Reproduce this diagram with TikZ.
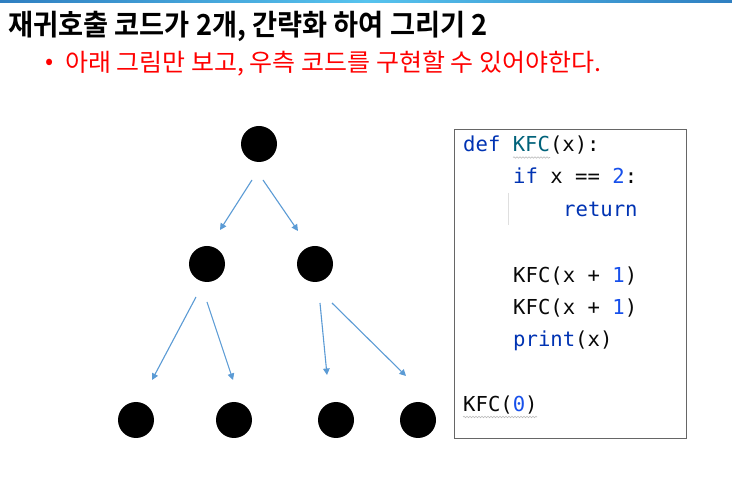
\documentclass[tikz,border=0pt]{standalone}
\usepackage{fontspec}
\usepackage{graphicx}
\usetikzlibrary{arrows.meta,decorations.pathmorphing}
\newfontfamily\krbold{Noto Sans CJK KR Bold}
\newfontfamily\kr{Noto Sans CJK KR}
\newfontfamily\codefont{DejaVu Sans Mono}
\definecolor{arrowblue}{HTML}{5B9BD5}
\definecolor{kw}{HTML}{0033B3}
\definecolor{fn}{HTML}{00627A}
\definecolor{num}{HTML}{1750EB}
\definecolor{txt}{HTML}{080808}
\definecolor{topA}{HTML}{2F7FC1}
\definecolor{topB}{HTML}{56C3EE}
\definecolor{redtxt}{HTML}{FF0000}
\tikzset{
  dot/.style={circle,fill=black,minimum size=36pt,inner sep=0pt},
  callarrow/.style={draw=arrowblue,line width=1.1pt,-{Triangle[length=6.5pt,width=6.5pt]}},
  codeline/.style={anchor=base west,inner sep=0pt,font=\codefont\fontsize{20.6}{24}\selectfont,text=txt},
  squiggle/.style={draw=gray!55,line width=0.6pt,decorate,decoration={snake,amplitude=0.7pt,segment length=3pt}}
}
\begin{document}
\begin{tikzpicture}[x=1pt,y=-1pt]
\useasboundingbox (0,0) rectangle (732,486);
\fill[white] (0,0) rectangle (732,486);
% top gradient line
\shade[left color=topA,right color=topB] (0,0) rectangle (366,2.2);
\shade[left color=topB,right color=topA] (366,0) rectangle (732,2.2);
% title
\node[anchor=west,inner sep=0pt] (title) at (8,26)
  {\scalebox{0.94}[1]{\krbold\fontsize{29}{32}\selectfont 재귀호출 코드가 2개, 간략화 하여 그리기 2}};
\node[anchor=west,inner sep=0pt,text=redtxt] (bullet) at (45,64)
  {\kr\fontsize{24}{26}\selectfont •};
\node[anchor=west,inner sep=0pt,text=redtxt] (sub) at (65,64)
  {\scalebox{1.02}[1]{\kr\fontsize{24.5}{26}\selectfont 아래 그림만 보고, 우측 코드를 구현할 수 있어야한다.}};
% tree
\node[dot] (c0) at (259,144) {};
\node[dot] (c1) at (207,264) {};
\node[dot] (c2) at (315,264) {};
\node[dot] (c3) at (136,420) {};
\node[dot] (c4) at (234,420) {};
\node[dot] (c5) at (336,420) {};
\node[dot] (c6) at (418,420) {};
\coordinate (a1s) at (252,180); \coordinate (a1e) at (220,230);
\coordinate (a2s) at (263,180); \coordinate (a2e) at (298,231);
\coordinate (a3s) at (196,297); \coordinate (a3e) at (152,380);
\coordinate (a4s) at (207,302); \coordinate (a4e) at (233,380);
\coordinate (a5s) at (320,303); \coordinate (a5e) at (327,375);
\coordinate (a6s) at (332,303); \coordinate (a6e) at (406,376);
\draw[callarrow] (a1s) -- (a1e);
\draw[callarrow] (a2s) -- (a2e);
\draw[callarrow] (a3s) -- (a3e);
\draw[callarrow] (a4s) -- (a4e);
\draw[callarrow] (a5s) -- (a5e);
\draw[callarrow] (a6s) -- (a6e);
% code box
\node[draw=black!60,line width=0.9pt,minimum width=232pt,minimum height=309pt,anchor=north west,inner sep=0pt] (box) at (454,129) {};
\draw[gray!25,line width=0.8pt] (508,193) -- (508,225);
\node[codeline] (l1) at (463,152) {\textcolor{kw}{def} \textcolor{fn}{KFC}(x):};
\node[codeline] (l2) at (513,184) {\textcolor{kw}{if} x == \textcolor{num}{2}:};
\node[codeline] (l3) at (563,217) {\textcolor{kw}{return}};
\node[codeline] (l4) at (513,283) {KFC(x + \textcolor{num}{1})};
\node[codeline] (l5) at (513,315) {KFC(x + \textcolor{num}{1})};
\node[codeline] (l6) at (513,347) {\textcolor{kw}{print}(x)};
\node[codeline] (l7) at (463,412) {KFC(\textcolor{num}{0})};
\draw[squiggle] (513,157.5) -- (550,157.5);
\draw[squiggle] (463,417) -- (537,417);
\end{tikzpicture}
\end{document}
